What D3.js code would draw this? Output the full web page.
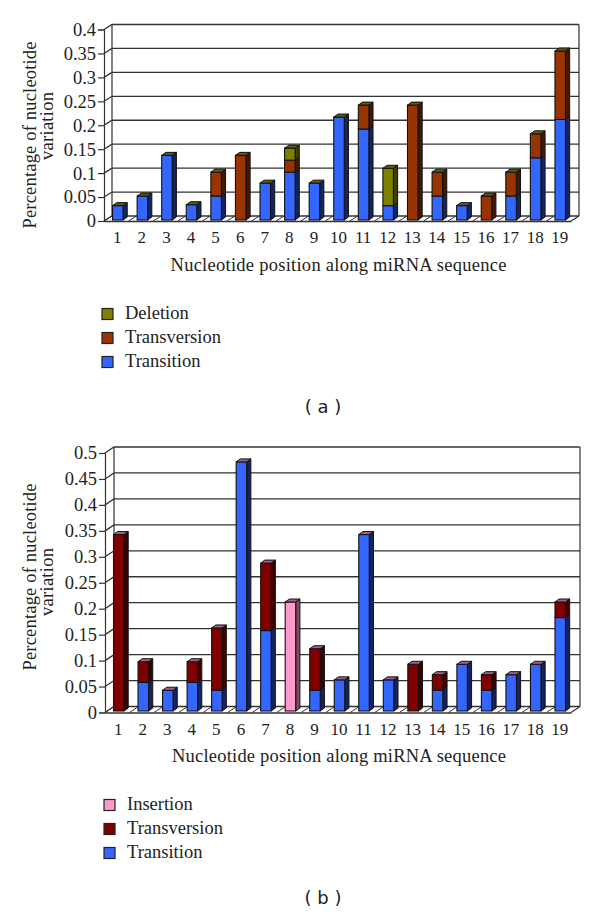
<!DOCTYPE html>
<html><head><meta charset="utf-8">
<script src="https://cdn.jsdelivr.net/npm/d3@7"></script>
<style>html,body{margin:0;padding:0;background:#fff}svg{display:block}
text{font-family:"Liberation Serif",serif;fill:#222}</style></head>
<body><svg id="c" width="600" height="914"></svg>
<script>
const positions = d3.range(1, 20).map(String);
const transitionA = [.03,.05,.135,.032,.05,0,.077,.1,.077,.215,.19,.03,0,.05,.03,0,.05,.13,.21];
const transversionA = [0,0,0,0,.05,.135,0,.025,0,0,.05,0,.24,.05,0,.05,.05,.05,.143];
const deletionA = [0,0,0,0,0,0,0,.025,0,0,0,.078,0,0,0,0,0,0,0];
const transitionB = [0,.055,.04,.055,.04,.48,.155,0,.04,.06,.34,.06,0,.04,.09,.04,.07,.09,.18];
const transversionB = [.34,.04,0,.04,.12,0,.13,0,.08,0,0,0,.09,.03,0,.03,0,0,.03];
const insertionB = [0,0,0,0,0,0,0,.21,0,0,0,0,0,0,0,0,0,0,0];
const ticksA = [0,.05,.1,.15,.2,.25,.3,.35,.4];
const ticksB = [0,.05,.1,.15,.2,.25,.3,.35,.4,.45,.5];
const xTitle = "Nucleotide position along miRNA sequence";
const yTitle = ["Percentage of nucleotide","variation"];

const svg = d3.select("#c");
const LINE = "#333";

function panel(o){
  const g = svg.append("g");
  const x = d3.scaleBand().domain(positions).range([o.x0,o.x1]);
  const y = d3.scaleLinear().domain([0,o.max]).range([o.y0,o.yTop]);
  const dx=o.dx, dy=o.dy;
  g.selectAll(".grid").data(o.ticks).join("path")
    .attr("fill","none").attr("stroke",LINE).attr("stroke-width",1.3)
    .attr("d",t=>`M${o.x0},${y(t)}L${o.x0+dx},${y(t)-dy}L${o.x1+dx},${y(t)-dy}`);
  g.append("path").attr("fill","none").attr("stroke",LINE).attr("stroke-width",1.2)
    .attr("d",`M${o.x0+dx},${y(0)-dy}V${y(o.max)-dy}M${o.x1+dx},${y(0)-dy}V${y(o.max)-dy}M${o.x1},${y(0)}L${o.x1+dx},${y(0)-dy}`);
  g.selectAll(".fl").data(positions).join("path")
    .attr("stroke",LINE).attr("stroke-width",1).attr("fill","none")
    .attr("d",p=>`M${x(p)},${y(0)}l${dx},${-dy}`);
  const ay = g.append("g").attr("transform",`translate(${o.x0},0)`)
    .call(d3.axisLeft(y).tickValues(o.ticks).tickSize(6).tickPadding(2).tickFormat(d=>String(d)));
  ay.select(".domain").attr("stroke",LINE).attr("stroke-width",1.2);
  ay.selectAll("line").attr("stroke",LINE).attr("stroke-width",1.2);
  ay.selectAll("text").attr("font-size",o.fs).attr("font-family","Liberation Serif").attr("fill","#222");
  const ax = g.append("g").attr("transform",`translate(0,${y(0)})`)
    .call(d3.axisBottom(x).tickSize(0).tickPadding(10));
  ax.select(".domain").attr("stroke",LINE).attr("stroke-width",1.4);
  ax.selectAll("text").attr("font-size",17).attr("font-family","Liberation Serif").attr("fill","#222")
    .attr("transform","translate(1,0)");
  const base = o.baseLift, w=o.barW, bdx=4.2, bdy=3;
  const offs = o.barOff;
  positions.forEach((p,i)=>{
    let acc=0;
    const left = x(p)+x.bandwidth()/2+offs-w/2;
    const yv = v=>y(v)-base;
    const segs = o.series.map(s=>({s,v:s.values[i]})).filter(d=>d.v>0);
    const total = d3.sum(segs,d=>d.v);
    const bg = g.append("g");
    segs.forEach(d=>{
      const yb=yv(acc), yt=yv(acc+d.v); acc+=d.v;
      bg.append("path").attr("fill",d.s.side).attr("stroke","#111").attr("stroke-width",1)
        .attr("d",`M${left+w},${yb}L${left+w+bdx},${yb-bdy}V${yt-bdy}L${left+w},${yt}Z`);
      bg.append("rect").attr("x",left).attr("y",yt).attr("width",w).attr("height",yb-yt)
        .attr("fill",d.s.color).attr("stroke","#111").attr("stroke-width",1.1);
    });
    bg.append("path").attr("fill",o.topColor).attr("stroke","#111").attr("stroke-width",1)
      .attr("d",`M${left},${yv(total)}l${bdx},${-bdy}h${w}l${-bdx},${bdy}Z`);
  });
  g.append("text").attr("x",o.xTitleX).attr("y",o.xTitleY).attr("text-anchor","middle")
    .attr("font-size",18.5).attr("textLength",o.xTitleLen).attr("lengthAdjust","spacing").text(xTitle);
  yTitle.forEach((t,i)=>{
    g.append("text").attr("transform",`translate(${o.yTitleX[i]},${o.yTitleC[i]}) rotate(-90)`)
      .attr("text-anchor","middle").attr("font-size",18.5).attr("textLength",o.yTitleLen[i]).attr("lengthAdjust","spacing").text(t);
  });
  const rev = o.series.slice().reverse();
  rev.forEach((s,i)=>{
    g.append("rect").attr("x",o.legX).attr("y",o.legY[i]-5.5).attr("width",11).attr("height",11)
      .attr("fill",s.color).attr("stroke","#222").attr("stroke-width",1.2);
    g.append("text").attr("x",o.legX+23).attr("y",o.legY[i]+5).attr("font-size",18.5).text(s.name);
  });
  g.append("text").attr("x",o.capX).attr("y",o.capY).attr("text-anchor","middle")
    .style("font-family","'DejaVu Sans'").attr("font-size",18).text(o.cap);
}

const BLUE="#3366ff", BLUES="#14245f";
panel({x0:104,x1:571,y0:221,yTop:29.5,max:.4,dx:8,dy:5,ticks:ticksA,fs:18.5,baseLift:1,barW:10.5,barOff:1.5,
  series:[
   {name:"Transition",values:transitionA,color:BLUE,side:BLUES},
   {name:"Transversion",values:transversionA,color:"#993300",side:"#451700"},
   {name:"Deletion",values:deletionA,color:"#808000",side:"#3f3f00"}],
  topColor:"#5c5c10",
  xTitleX:338.5,xTitleY:271,xTitleLen:336,
  yTitleX:[36,53],yTitleC:[135,126],yTitleLen:[187,68],
  legX:102,legY:[314,338,362],capX:323,capY:413,cap:"( a )"});
panel({x0:105,x1:571,y0:712.5,yTop:453,max:.5,dx:9,dy:6,ticks:ticksB,fs:18.5,baseLift:1.5,barW:10.5,barOff:1.5,
  series:[
   {name:"Transition",values:transitionB,color:BLUE,side:BLUES},
   {name:"Transversion",values:transversionB,color:"#800000",side:"#3f0000"},
   {name:"Insertion",values:insertionB,color:"#ff99cc",side:"#804d66"}],
  topColor:"#a06088",
  xTitleX:339,xTitleY:762,xTitleLen:334,
  yTitleX:[36,53],yTitleC:[577,582],yTitleLen:[187,68],
  legX:104,legY:[805,829,853],capX:323,capY:904,cap:"( b )"});
</script></body></html>
